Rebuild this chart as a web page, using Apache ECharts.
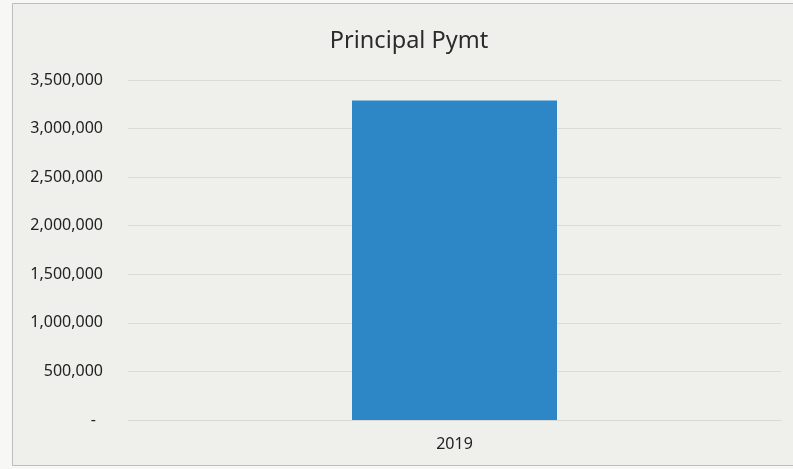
<!DOCTYPE html>
<html>
<head>
<meta charset="utf-8">
<script src="https://cdn.jsdelivr.net/npm/echarts@6/dist/echarts.min.js"></script>
<style>
  html, body { margin: 0; padding: 0; background: #f7f7f5; }
  #chart { width: 793px; height: 469px; }
</style>
</head>
<body>
<div id="chart"></div>
<script>
// Principal payment by year
const chartTitle = 'Principal Pymt';
const years = ['2019'];
const principalPayments = [3290000];
const yMin = 0;
const yMax = 3500000;
const yStep = 500000;

const FONT = '"Noto Sans", "Open Sans", sans-serif';

function formatAmount(v) {
  if (v === 0) return '{dash|-}';
  return v.toString().replace(/\B(?=(\d{3})+(?!\d))/g, ',');
}

const chart = echarts.init(document.getElementById('chart'), null, { renderer: 'canvas' });

chart.setOption({
  backgroundColor: '#f7f7f5',
  animation: false,
  graphic: [{
    type: 'rect',
    z: -10,
    shape: { x: 12.5, y: 3.5, width: 800, height: 462 },
    style: { fill: '#eff0ec', stroke: '#bdbdbd', lineWidth: 1 }
  }],
  title: {
    text: chartTitle,
    left: 404,
    textAlign: 'center',
    top: 24,
    textStyle: { fontFamily: FONT, fontSize: 23.5, fontWeight: 'normal', color: '#2b2b2b' }
  },
  grid: { left: 128, right: 12, top: 80, bottom: 49 },
  xAxis: {
    type: 'category',
    data: years,
    axisTick: { show: false },
    axisLine: { show: true, lineStyle: { color: '#d8d8d6', width: 1 } },
    axisLabel: { fontFamily: FONT, fontSize: 16, color: '#222', margin: 16 }
  },
  yAxis: {
    type: 'value',
    min: yMin,
    max: yMax,
    interval: yStep,
    axisLine: { show: false },
    axisTick: { show: false },
    splitLine: { lineStyle: { color: '#dadad8', width: 1 } },
    axisLabel: {
      fontFamily: FONT,
      fontSize: 16,
      color: '#222',
      margin: 25,
      formatter: formatAmount,
      rich: { dash: { fontFamily: FONT, fontSize: 16, color: '#222', padding: [0, 7, 0, 0] } }
    }
  },
  series: [{
    type: 'bar',
    data: principalPayments,
    barWidth: 205,
    itemStyle: { color: '#2d86c5' }
  }]
});
</script>
</body>
</html>
